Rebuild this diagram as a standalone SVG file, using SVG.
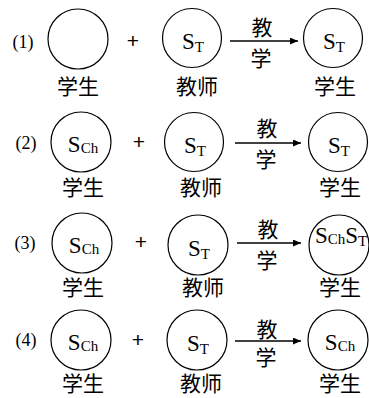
<svg xmlns="http://www.w3.org/2000/svg" width="369" height="398" viewBox="0 0 369 398">
<style>
.c{fill:none;stroke:#000;stroke-width:1.2}
.cjk{font-family:"Noto Sans CJK SC","Noto Sans CJK JP",sans-serif;font-size:21px;fill:#000;text-anchor:middle}
.num{font-family:"Liberation Serif",serif;font-size:18px;fill:#000;text-anchor:middle}
.s{font-family:"Liberation Serif",serif;font-size:23px;fill:#000;text-anchor:middle}
.sub{font-size:15px}
.plus{font-family:"Liberation Sans",sans-serif;font-size:21px;fill:#000;text-anchor:middle}
.ar{stroke:#000;stroke-width:1.3;fill:none}
</style>
<defs>
<marker id="ah" markerWidth="9" markerHeight="7" refX="8" refY="3.5" orient="auto" markerUnits="userSpaceOnUse">
<path d="M0,0 L8,3.5 L0,7 z" fill="#000"/>
</marker>
</defs>

<!-- Row 1 -->
<g id="row1-label"><text class="num" x="23" y="48">(1)</text></g>
<g id="row1-student"><circle class="c" cx="78" cy="39" r="30"/><text class="cjk" x="78" y="94">学生</text></g>
<g id="row1-plus"><text class="plus" x="133" y="48">+</text></g>
<g id="row1-teacher"><circle class="c" cx="192" cy="38" r="29.5"/><text class="s" x="193" y="49">S<tspan class="sub" dy="3">T</tspan></text><text class="cjk" x="197" y="94">教师</text></g>
<g id="row1-result"><circle class="c" cx="333" cy="38" r="29.5"/><text class="s" x="334" y="49">S<tspan class="sub" dy="3">T</tspan></text><text class="cjk" x="335" y="94">学生</text></g>

<!-- Row 2 -->
<g id="row2-label"><text class="num" x="26" y="149">(2)</text></g>
<g id="row2-student"><circle class="c" cx="81" cy="142" r="30"/><text class="s" x="83" y="152">S<tspan class="sub" dy="1">Ch</tspan></text><text class="cjk" x="83" y="195">学生</text></g>
<g id="row2-plus"><text class="plus" x="139" y="149">+</text></g>
<g id="row2-teacher"><circle class="c" cx="194" cy="142" r="29.5"/><text class="s" x="195" y="153">S<tspan class="sub" dy="3">T</tspan></text><text class="cjk" x="201" y="195">教师</text></g>
<g id="row2-result"><circle class="c" cx="338" cy="142" r="29.5"/><text class="s" x="339" y="153">S<tspan class="sub" dy="3">T</tspan></text><text class="cjk" x="340" y="195">学生</text></g>

<!-- Row 3 -->
<g id="row3-label"><text class="num" x="25" y="249">(3)</text></g>
<g id="row3-student"><circle class="c" cx="82" cy="243" r="30"/><text class="s" x="84" y="253">S<tspan class="sub" dy="1">Ch</tspan></text><text class="cjk" x="83" y="295">学生</text></g>
<g id="row3-plus"><text class="plus" x="141" y="249">+</text></g>
<g id="row3-teacher"><circle class="c" cx="198" cy="245" r="30"/><text class="s" x="199" y="256">S<tspan class="sub" dy="3">T</tspan></text><text class="cjk" x="203" y="295">教师</text></g>
<g id="row3-result"><circle class="c" cx="339" cy="245" r="30"/><text class="s" x="315" y="243" style="text-anchor:start">S<tspan class="sub" dy="1">Ch</tspan><tspan dy="-1">S</tspan><tspan class="sub" dy="3">T</tspan></text><text class="cjk" x="340" y="295">学生</text></g>

<!-- Row 4 -->
<g id="row4-label"><text class="num" x="26" y="346">(4)</text></g>
<g id="row4-student"><circle class="c" cx="81" cy="340" r="30"/><text class="s" x="83" y="350">S<tspan class="sub" dy="1">Ch</tspan></text><text class="cjk" x="83" y="391">学生</text></g>
<g id="row4-plus"><text class="plus" x="138" y="347">+</text></g>
<g id="row4-teacher"><circle class="c" cx="197" cy="340" r="30"/><text class="s" x="198" y="351">S<tspan class="sub" dy="3">T</tspan></text><text class="cjk" x="201" y="391">教师</text></g>
<g id="row4-result"><circle class="c" cx="338" cy="340" r="30"/><text class="s" x="340" y="350">S<tspan class="sub" dy="1">Ch</tspan></text><text class="cjk" x="340" y="391">学生</text></g>

<!-- Connectors -->
<g id="connectors">
<line class="ar" x1="230" y1="41" x2="298" y2="41" marker-end="url(#ah)"/>
<text class="cjk" x="262" y="35">教</text><text class="cjk" x="261" y="66">学</text>
<line class="ar" x1="235" y1="143" x2="301" y2="143" marker-end="url(#ah)"/>
<text class="cjk" x="267" y="136">教</text><text class="cjk" x="266" y="167">学</text>
<line class="ar" x1="237" y1="243" x2="301" y2="243" marker-end="url(#ah)"/>
<text class="cjk" x="268" y="237">教</text><text class="cjk" x="267" y="268">学</text>
<line class="ar" x1="235" y1="341" x2="301" y2="341" marker-end="url(#ah)"/>
<text class="cjk" x="267" y="337">教</text><text class="cjk" x="266" y="365">学</text>
</g>
</svg>
